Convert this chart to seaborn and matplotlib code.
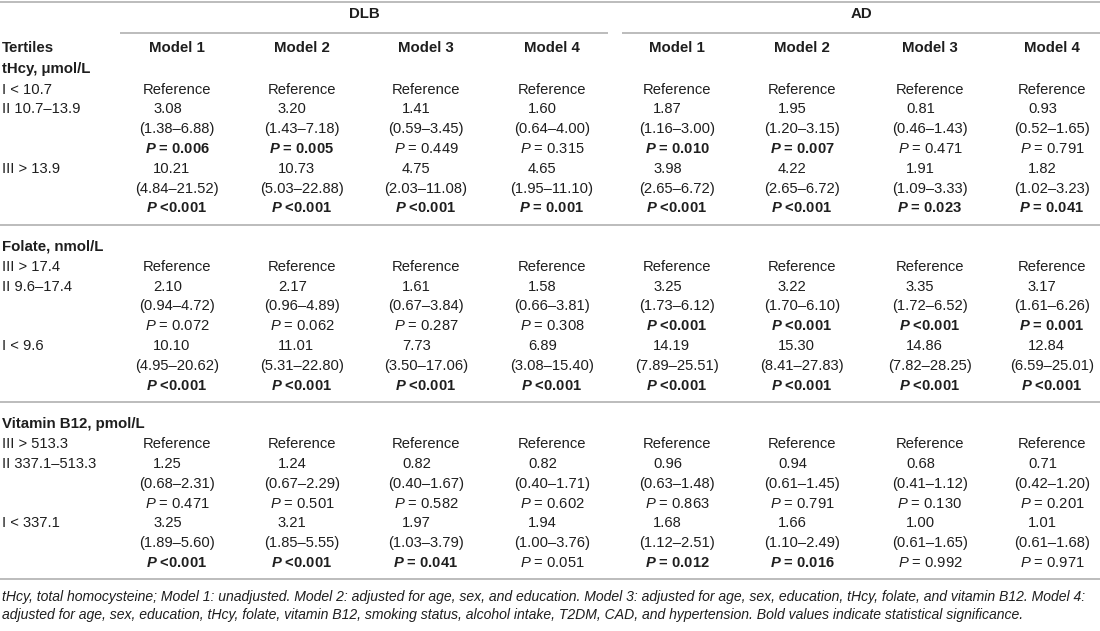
import matplotlib
matplotlib.use("Agg")
import matplotlib.pyplot as plt
import seaborn as sns

# table content
groups = ["DLB", "AD"]
models = ["Model 1", "Model 2", "Model 3", "Model 4"]
sections = ["tHcy, μmol/L", "Folate, nmol/L", "Vitamin B12, pmol/L"]
tertiles = [
    ["I < 10.7", "II 10.7–13.9", "III > 13.9"],
    ["III > 17.4", "II 9.6–17.4", "I < 9.6"],
    ["III > 513.3", "II 337.1–513.3", "I < 337.1"],
]

# odds ratios, 95% CI, P values (DLB models 1-4, then AD models 1-4)
thcy_or = [
    ["3.08", "3.20", "1.41", "1.60", "1.87", "1.95", "0.81", "0.93"],
    ["10.21", "10.73", "4.75", "4.65", "3.98", "4.22", "1.91", "1.82"],
]
thcy_ci = [
    ["1.38–6.88", "1.43–7.18", "0.59–3.45", "0.64–4.00", "1.16–3.00", "1.20–3.15", "0.46–1.43", "0.52–1.65"],
    ["4.84–21.52", "5.03–22.88", "2.03–11.08", "1.95–11.10", "2.65–6.72", "2.65–6.72", "1.09–3.33", "1.02–3.23"],
]
thcy_p = [
    ["= 0.006", "= 0.005", "= 0.449", "= 0.315", "= 0.010", "= 0.007", "= 0.471", "= 0.791"],
    ["<0.001", "<0.001", "<0.001", "= 0.001", "<0.001", "<0.001", "= 0.023", "= 0.041"],
]
folate_or = [
    ["2.10", "2.17", "1.61", "1.58", "3.25", "3.22", "3.35", "3.17"],
    ["10.10", "11.01", "7.73", "6.89", "14.19", "15.30", "14.86", "12.84"],
]
folate_ci = [
    ["0.94–4.72", "0.96–4.89", "0.67–3.84", "0.66–3.81", "1.73–6.12", "1.70–6.10", "1.72–6.52", "1.61–6.26"],
    ["4.95–20.62", "5.31–22.80", "3.50–17.06", "3.08–15.40", "7.89–25.51", "8.41–27.83", "7.82–28.25", "6.59–25.01"],
]
folate_p = [
    ["= 0.072", "= 0.062", "= 0.287", "= 0.308", "<0.001", "<0.001", "<0.001", "= 0.001"],
    ["<0.001", "<0.001", "<0.001", "<0.001", "<0.001", "<0.001", "<0.001", "<0.001"],
]
b12_or = [
    ["1.25", "1.24", "0.82", "0.82", "0.96", "0.94", "0.68", "0.71"],
    ["3.25", "3.21", "1.97", "1.94", "1.68", "1.66", "1.00", "1.01"],
]
b12_ci = [
    ["0.68–2.31", "0.67–2.29", "0.40–1.67", "0.40–1.71", "0.63–1.48", "0.61–1.45", "0.41–1.12", "0.42–1.20"],
    ["1.89–5.60", "1.85–5.55", "1.03–3.79", "1.00–3.76", "1.12–2.51", "1.10–2.49", "0.61–1.65", "0.61–1.68"],
]
b12_p = [
    ["= 0.471", "= 0.501", "= 0.582", "= 0.602", "= 0.863", "= 0.791", "= 0.130", "= 0.201"],
    ["<0.001", "<0.001", "= 0.041", "= 0.051", "= 0.012", "= 0.016", "= 0.992", "= 0.971"],
]
footnote = [
    "tHcy, total homocysteine; Model 1: unadjusted. Model 2: adjusted for age, sex, and education. "
    "Model 3: adjusted for age, sex, education, tHcy, folate, and vitamin B12. Model 4:",
    "adjusted for age, sex, education, tHcy, folate, vitamin B12, smoking status, alcohol intake, "
    "T2DM, CAD, and hypertension. Bold values indicate statistical significance.",
]

sns.set_theme(style="white")
plt.rcParams["font.family"] = ["Liberation Sans", "DejaVu Sans"]
plt.rcParams["mathtext.fontset"] = "custom"
plt.rcParams["mathtext.rm"] = "Liberation Sans"
plt.rcParams["mathtext.it"] = "Liberation Sans:italic"
plt.rcParams["mathtext.bf"] = "Liberation Sans:bold"
plt.rcParams["mathtext.bfit"] = "Liberation Sans:bold:italic"

TXT = "#1e1e1e"
LINE = "#b0b0b0"
FS = 10.6
HFS = 10.8

fig = plt.figure(figsize=(11, 6.31), dpi=100)
ax = fig.add_axes([0, 0, 1, 1])
ax.set_xlim(0, 1100)
ax.set_ylim(631, 0)
ax.axis("off")

col_x = [177, 302, 426, 552, 677, 802, 930, 1052]
group_x = [364, 861]
group_lines = [(120, 608), (622, 1100)]

def hline(y, x0=0, x1=1100):
    ax.plot([x0, x1], [y, y], color=LINE, lw=1.2, solid_capstyle="butt")

hline(1.5)
for g, gx, (x0, x1) in zip(groups, group_x, group_lines):
    ax.text(gx, 14, g, ha="center", va="center", fontsize=HFS, fontweight="bold", color=TXT)
    hline(33, x0, x1)

ax.text(2, 48, "Tertiles", ha="left", va="center", fontsize=HFS, fontweight="bold", color=TXT)
for i, cx in enumerate(col_x):
    ax.text(cx, 48, models[i % 4], ha="center", va="center", fontsize=HFS, fontweight="bold", color=TXT)

section_data = [
    (thcy_or, thcy_ci, thcy_p),
    (folate_or, folate_ci, folate_p),
    (b12_or, b12_ci, b12_p),
]
row_h = 19.8
y0 = 69
for s, (title, labels, (ors, cis, ps)) in enumerate(zip(sections, tertiles, section_data)):
    ax.text(2, y0, title, ha="left", va="center", fontsize=HFS, fontweight="bold", color=TXT)
    yref = y0 + 20.5
    ax.text(2, yref, labels[0], ha="left", va="center", fontsize=FS, color=TXT)
    for cx in col_x:
        ax.text(cx, yref, "Reference", ha="center", va="center", fontsize=FS, color=TXT)
    for k in range(2):
        yr = yref + row_h * (1 + 3 * k)
        ax.text(2, yr, labels[k + 1], ha="left", va="center", fontsize=FS, color=TXT)
        for j, cx in enumerate(col_x):
            ax.text(cx - 24, yr, ors[k][j], ha="left", va="center", fontsize=FS, color=TXT)
            ax.text(cx, yr + row_h, "(" + cis[k][j] + ")", ha="center", va="center", fontsize=FS, color=TXT)
            p = ps[k][j]
            val = float(p.strip("=< "))
            sig = p.startswith("<") or val < 0.05
            if sig:
                ax.text(cx, yr + 2 * row_h, r"$\mathbfit{P}$ " + p, ha="center", va="center",
                        fontsize=FS, fontweight="bold", color=TXT)
            else:
                ax.text(cx, yr + 2 * row_h, r"$\mathit{P}$ " + p, ha="center", va="center",
                        fontsize=FS, color=TXT)
    y_last = yref + row_h * 6
    hline(y_last + 16.5)
    y0 = y_last + 16.5 + 21.5

# footnote, sized to fill the width
fig.canvas.draw()
renderer = fig.canvas.get_renderer()
notes = []
for i, line in enumerate(footnote):
    t = ax.text(2, y_last + 34 + 18.5 * i, line, ha="left", va="center", fontsize=9,
                fontstyle="italic", color=TXT)
    notes.append(t)
w = notes[0].get_window_extent(renderer).width
for t in notes:
    t.set_fontsize(9 * 1094 / w)

fig.savefig("out.png", dpi=100, facecolor="white")
